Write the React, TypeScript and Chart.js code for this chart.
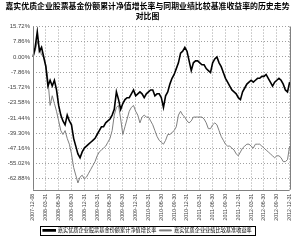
import React, { useEffect, useRef } from 'react';
import { Chart, registerables } from 'chart.js';

Chart.register(...registerables);

const titleLines = [
  '嘉实优质企业股票基金份额累计净值增长率与同期业绩比较基准收益率的历史走势',
  '对比图',
];
const seriesNames = ['嘉实优质企业股票基金份额累计净值增长率', '嘉实优质企业业绩比较基准收益率'];

const tickDates = [
  '2007-12-08', '2008-03-31', '2008-06-30', '2008-09-30', '2008-12-31',
  '2009-03-31', '2009-06-30', '2009-09-30', '2009-12-31', '2010-03-31',
  '2010-06-30', '2010-09-30', '2010-12-31', '2011-03-31', '2011-06-30',
  '2011-09-30', '2011-12-31', '2012-03-31', '2012-06-30', '2012-09-30',
  '2012-12-31',
];
const pointsPerTick = 6;

const yTicks = [15.72, 7.86, 0, -7.86, -15.72, -23.58, -31.44, -39.3, -47.16, -55.02, -62.88];
const yMin = -68.5;
const yMax = 15.72;

const fundValues = [
  0, 5, 13, 3, 5, 0, -5, -15, -12, -15, -12, -17,
  -25, -30, -33, -35, -30, -33, -35, -42, -46, -50, -52, -49,
  -47, -46, -45, -44, -43, -42, -40, -38, -36, -36, -34, -33,
  -32, -30, -27, -18, -22, -27, -24, -22, -21, -21, -19, -17,
  -20, -19, -18, -19, -21, -19, -18, -17, -17, -20, -19, -19,
  -21, -26, -20, -18, -14, -11, -9, -6, -3, 2, 3, 5,
  3, -2, -7, -3, -2, -2, -3, -4, -4, -6, -7, -8,
  -3, -1, 0, -3, -5, -8, -11, -13, -15, -17, -18, -19,
  -21, -22, -18, -16, -14, -13, -12, -13, -12, -11, -11, -10,
  -10, -9, -11, -13, -15, -13, -12, -11, -12, -14, -17, -18,
  -13,
];

const benchValues = [
  0, 3, 8, 5, 1, 0, -4, -12, -25, -20, -24, -28,
  -33, -38, -40, -38, -42, -45, -50, -57, -61, -65, -62, -61,
  -63, -62, -60, -58, -56, -54, -51, -49, -48, -47, -46, -44,
  -42, -38, -30, -26, -25, -32, -40, -36, -32, -28, -26, -25,
  -28, -30, -34, -31, -30, -31, -31, -33, -35, -38, -41, -43,
  -44, -45, -43, -40, -40, -39, -38, -36, -30, -28, -30, -31,
  -33, -34, -33, -31, -31, -31, -31, -31, -32, -34, -37, -37,
  -35, -34, -35, -38, -41, -43, -45, -46, -46, -47, -48, -50,
  -51, -49, -47, -46, -45, -45, -46, -47, -45, -45, -45, -46,
  -47, -48, -49, -50, -51, -52, -51, -51, -52, -54, -54, -53,
  -46,
];

const labels = fundValues.map((_, i) =>
  i % pointsPerTick === 0 ? tickDates[i / pointsPerTick] ?? '' : ''
);

const frameAndLegendBox = {
  id: 'frameAndLegendBox',
  afterDraw(chart: any) {
    const ctx = chart.ctx;
    const a = chart.chartArea;
    ctx.save();
    ctx.strokeStyle = '#808080';
    ctx.lineWidth = 1;
    ctx.setLineDash([]);
    ctx.beginPath();
    ctx.moveTo(Math.round(a.right) + 0.5, a.top);
    ctx.lineTo(Math.round(a.right) + 0.5, a.bottom);
    ctx.moveTo(Math.round(a.left) + 0.5, a.top);
    ctx.lineTo(Math.round(a.left) + 0.5, a.bottom);
    ctx.moveTo(a.left, Math.round(a.bottom) + 0.5);
    ctx.lineTo(a.right, Math.round(a.bottom) + 0.5);
    ctx.stroke();
    const hb = chart.legend?.legendHitBoxes;
    if (hb && hb.length) {
      let l = Infinity, r = -Infinity, t = Infinity, b = -Infinity;
      hb.forEach((h: any) => {
        l = Math.min(l, h.left);
        r = Math.max(r, h.left + h.width);
        t = Math.min(t, h.top);
        b = Math.max(b, h.top + h.height);
      });
      ctx.strokeStyle = '#000';
      ctx.strokeRect(Math.round(l - 3) + 0.5, Math.round(t - 2) + 0.5, Math.round(r - l + 6), Math.round(b - t + 4));
    }
    ctx.restore();
  },
};

export default function App() {
  const ref = useRef<HTMLCanvasElement | null>(null);
  useEffect(() => {
    document.body.style.margin = '0';
    if (!ref.current) return;
    const chart = new Chart(ref.current, {
      type: 'line',
      data: {
        labels,
        datasets: [
          {
            label: seriesNames[0],
            data: fundValues,
            borderColor: '#000000',
            backgroundColor: '#000000',
            borderWidth: 1.6,
            pointRadius: 0,
            tension: 0,
          },
          {
            label: seriesNames[1],
            data: benchValues,
            borderColor: '#7f7f7f',
            backgroundColor: '#7f7f7f',
            borderWidth: 1,
            pointRadius: 0,
            tension: 0,
          },
        ],
      },
      options: {
        animation: false,
        responsive: true,
        maintainAspectRatio: false,
        layout: { padding: { left: 0, right: 5, top: 0, bottom: 2 } },
        plugins: {
          title: {
            display: true,
            text: titleLines,
            color: '#000',
            font: { family: '"Noto Sans CJK SC"', size: 7.9, weight: 'bold', lineHeight: 1.3 },
            padding: { top: 1, bottom: 5 },
          },
          legend: {
            display: true,
            position: 'bottom',
            labels: {
              color: '#000',
              font: { family: '"Noto Sans CJK SC"', size: 5.2 },
              boxWidth: 12,
              boxHeight: 1,
              padding: 3,
            },
          },
          tooltip: { enabled: false },
        },
        scales: {
          x: {
            type: 'category',
            offset: false,
            grid: {
              color: (c: any) => (c.index % pointsPerTick === 0 ? '#a0a0a0' : 'rgba(0,0,0,0)'),
              lineWidth: 1,
              drawTicks: false,
            },
            border: { display: false, dash: [1, 2] },
            ticks: {
              autoSkip: false,
              minRotation: 90,
              maxRotation: 90,
              padding: 4,
              color: '#444',
              font: { family: '"Liberation Sans"', size: 5.3 },
            },
          },
          y: {
            min: yMin,
            max: yMax,
            afterBuildTicks: (s: any) => {
              s.ticks = yTicks.map((v) => ({ value: v }));
            },
            afterFit: (s: any) => {
              s.width = 33;
            },
            grid: { color: '#a0a0a0', drawTicks: false },
            border: { display: false, dash: [1, 2] },
            ticks: {
              padding: 3,
              color: '#444',
              font: { family: '"Liberation Sans"', size: 6 },
              callback: (v: any) => Number(v).toFixed(2) + '%',
            },
          },
        },
      },
      plugins: [frameAndLegendBox],
    } as any);
    return () => chart.destroy();
  }, []);
  return (
    <div style={{ width: 300, height: 245, position: 'relative' }}>
      <canvas ref={ref} />
    </div>
  );
}
